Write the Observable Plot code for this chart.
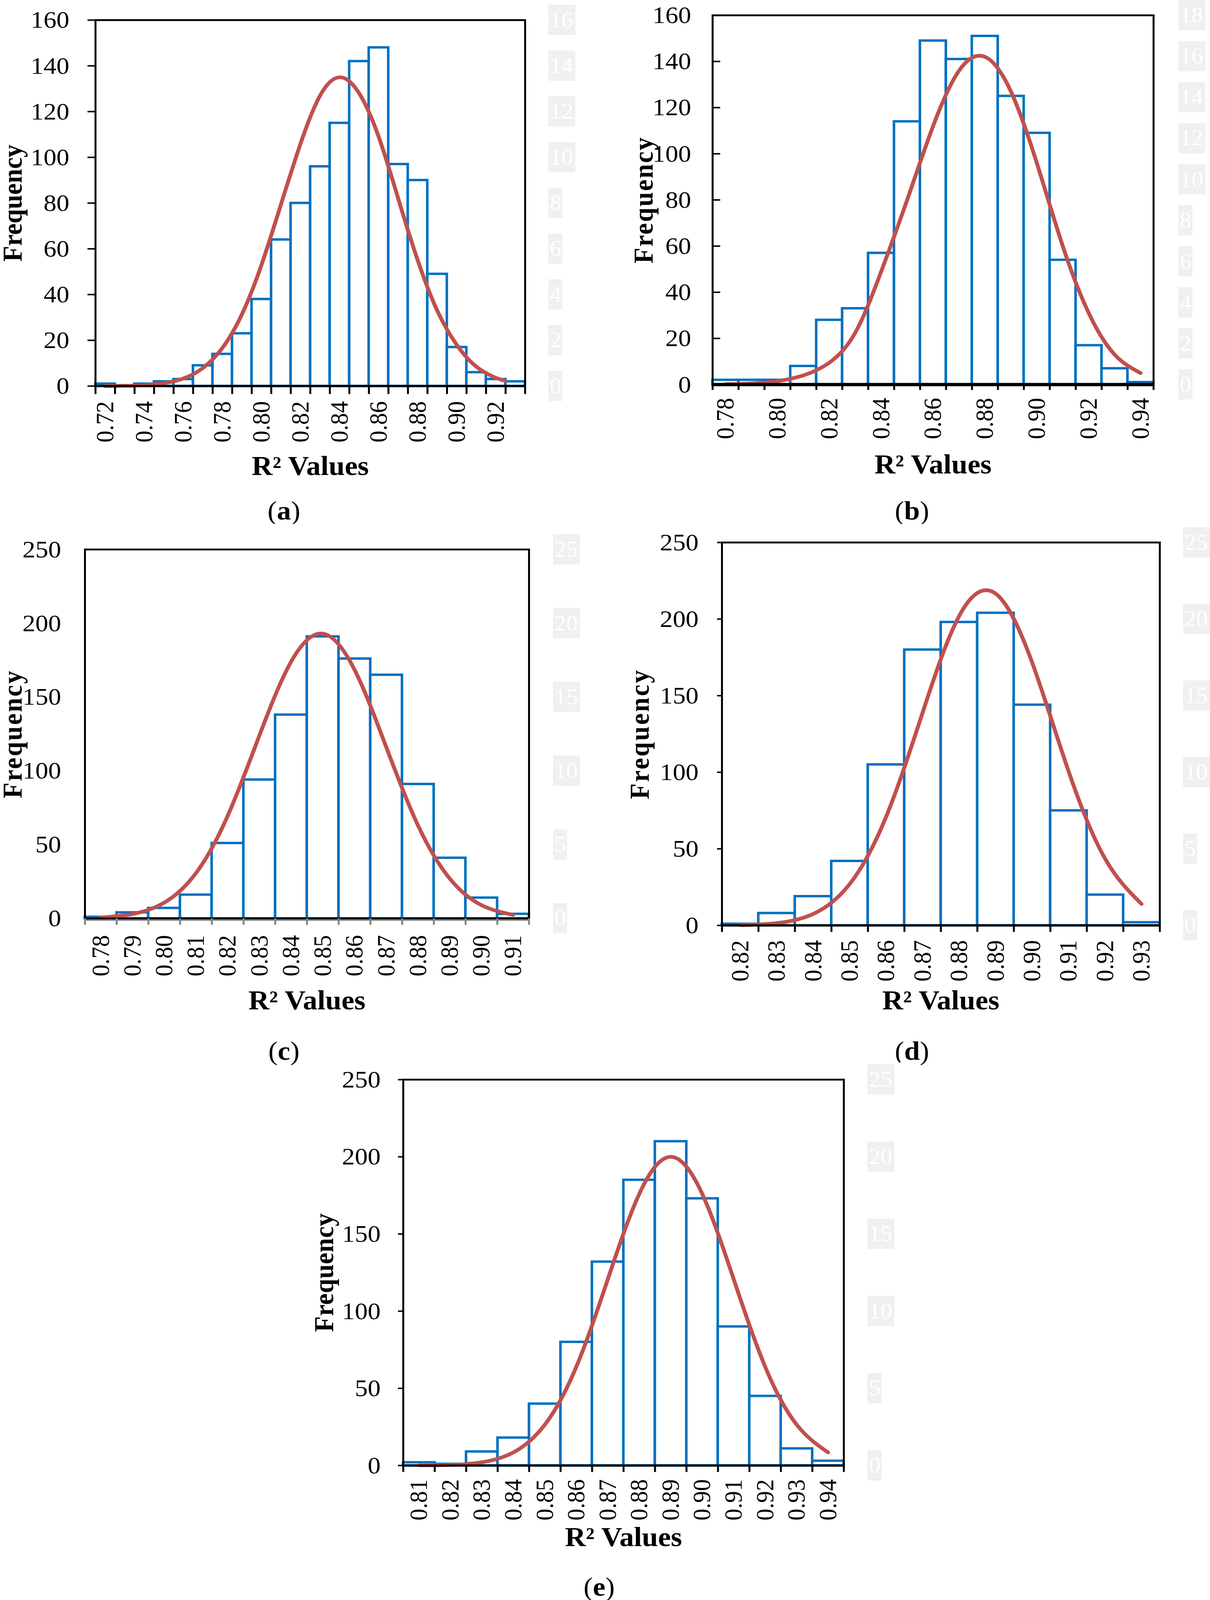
<!DOCTYPE html>
<html>
<head>
<meta charset="utf-8">
<script src="https://cdn.jsdelivr.net/npm/d3@7"></script>
<script src="https://cdn.jsdelivr.net/npm/@observablehq/plot@0.6"></script>
<style>
  body { margin: 0; background: #fff; overflow: hidden; }
  #page { position: relative; width: 3098px; height: 4337px; background: #fff; font-family: "Liberation Serif", serif; transform-origin: 0 0; }
  .panel { position: absolute; }
  .cap { position: absolute; width: 400px; text-align: center; font-size: 72px; line-height: 72px; color: #000; }
</style>
</head>
<body>
<div id="page"></div>
<script>
// bin centres (R2 value) and frequencies
const centersA = [0.72, 0.73, 0.74, 0.75, 0.76, 0.77, 0.78, 0.79, 0.80, 0.81, 0.82, 0.83, 0.84, 0.85, 0.86, 0.87, 0.88, 0.89, 0.90, 0.91, 0.92, 0.93];
const countsA = [1, 0, 1, 2, 3, 9, 14, 23, 38, 64, 80, 96, 115, 142, 148, 97, 90, 49, 17, 6, 3, 2];
const labelsA = [0.72, 0.74, 0.76, 0.78, 0.80, 0.82, 0.84, 0.86, 0.88, 0.90, 0.92];
const fitXA = [0.72, 0.73, 0.74, 0.75, 0.76, 0.77, 0.78, 0.79, 0.80, 0.81, 0.82, 0.83, 0.84, 0.85, 0.86, 0.87, 0.88, 0.89, 0.90, 0.91, 0.92, 0.925];
const fitYA = [0.03, 0.13, 0.42, 1.3, 3.3, 7.9, 16.7, 31.4, 53, 79.5, 106, 127, 135, 128, 109, 82, 55, 33, 18, 8.5, 3.6, 2.3];

const centersB = [0.78, 0.79, 0.80, 0.81, 0.82, 0.83, 0.84, 0.85, 0.86, 0.87, 0.88, 0.89, 0.90, 0.91, 0.92, 0.93, 0.94];
const countsB = [2, 2, 2, 8, 28, 33, 57, 114, 149, 141, 151, 125, 109, 54, 17, 7, 1];
const labelsB = [0.78, 0.80, 0.82, 0.84, 0.86, 0.88, 0.90, 0.92, 0.94];
const fitXB = [0.78, 0.79, 0.80, 0.81, 0.82, 0.83, 0.84, 0.85, 0.86, 0.87, 0.88, 0.89, 0.90, 0.91, 0.92, 0.93, 0.94];
const fitYB = [0.2, 0.5, 1.5, 4, 9.5, 22.5, 49, 80, 112, 136, 142, 127, 96, 60, 31, 13, 5];

const centersC = [0.78, 0.79, 0.80, 0.81, 0.82, 0.83, 0.84, 0.85, 0.86, 0.87, 0.88, 0.89, 0.90, 0.91];
const countsC = [1, 4, 7, 16, 51, 94, 138, 191, 176, 165, 91, 41, 14, 3];
const labelsC = centersC;
const fitXC = [0.78, 0.79, 0.80, 0.81, 0.82, 0.83, 0.84, 0.85, 0.86, 0.87, 0.88, 0.89, 0.90, 0.91];
const fitYC = [0.6, 3, 10.7, 30.7, 69.5, 124, 174, 193, 168.5, 116, 63, 27, 9, 2.4];

const centersD = [0.82, 0.83, 0.84, 0.85, 0.86, 0.87, 0.88, 0.89, 0.90, 0.91, 0.92, 0.93];
const countsD = [1, 8, 19, 42, 105, 180, 198, 204, 144, 75, 20, 2];
const labelsD = centersD;
const fitXD = [0.82, 0.83, 0.84, 0.85, 0.86, 0.87, 0.88, 0.89, 0.90, 0.91, 0.92, 0.93];
const fitYD = [0.2, 1.5, 7.5, 27, 71, 139, 202, 216.6, 171.7, 100.6, 43.6, 14];

const centersE = [0.81, 0.82, 0.83, 0.84, 0.85, 0.86, 0.87, 0.88, 0.89, 0.90, 0.91, 0.92, 0.93, 0.94];
const countsE = [2, 1, 9, 18, 40, 80, 132, 185, 210, 173, 90, 45, 11, 3];
const labelsE = centersE;
const fitXE = [0.81, 0.82, 0.83, 0.84, 0.85, 0.86, 0.87, 0.88, 0.89, 0.90, 0.91, 0.92, 0.93, 0.94];
const fitYE = [0.1, 0.4, 2.1, 8.5, 26.5, 64, 120.7, 176, 200, 176, 120.7, 64, 26.5, 8.5];

// faint leftover labels of a hidden secondary axis, bottom to top
const ghost160 = ["0", "2", "4", "6", "8", "10", "12", "14", "16"];
const ghost180 = ["0", "2", "4", "6", "8", "10", "12", "14", "16", "18"];
const ghost250 = ["0", "5", "10", "15", "20", "25"];

const binW = 0.01;
const BLUE = "#0070C0", RED = "#C0504D";

// the window is shorter than the 4337px figure: squeeze the page to fit its height
const page = document.getElementById("page");
page.style.transform = "scale(1," + Math.min(1, window.innerHeight / 4337) + ")";

function panel(p) {
  const bins = p.centers.map((c, i) => ({x1: c - binW / 2, x2: c + binW / 2, n: p.counts[i]}));
  const edges = [...p.centers.map(c => c - binW / 2), p.centers[p.centers.length - 1] + binW / 2];
  const lo = edges[0], hi = edges[edges.length - 1];
  const fit = p.fitX.map((x, i) => ({x, y: p.fitY[i]}));
  const ghost = p.ghost.map((g, i) => ({g, y: i * p.yMax / (p.ghost.length - 1)}));
  const yTicks = d3.range(0, p.yMax + 1, p.yStep);

  const chart = Plot.plot({
    width: p.width, height: p.height,
    marginLeft: p.ml, marginRight: p.mr, marginTop: p.mt, marginBottom: p.mb,
    style: {fontFamily: "Liberation Serif", fontSize: "66px", color: "black", background: "white", overflow: "visible"},
    x: {domain: [lo, hi]},
    y: {domain: [0, p.yMax]},
    marks: [
      Plot.rect(ghost.filter(d => d.g.length > 1), {x1: () => hi, x2: () => hi, y1: "y", y2: "y", dx: p.gdx,
        insetRight: -69, insetTop: -41, insetBottom: -41, fill: "#f0f0f0"}),
      Plot.rect(ghost.filter(d => d.g.length === 1), {x1: () => hi, x2: () => hi, y1: "y", y2: "y", dx: p.gdx,
        insetRight: -36, insetTop: -41, insetBottom: -41, fill: "#f0f0f0"}),
      Plot.text(ghost, {x: () => hi, y: "y", text: "g", dx: p.gdx + 3, textAnchor: "start", fill: "white", fontSize: 60}),
      Plot.rectY(bins, {x1: "x1", x2: "x2", y: "n", fill: "white", stroke: BLUE, strokeWidth: 6.5}),
      Plot.line(fit, {x: "x", y: "y", stroke: RED, strokeWidth: 10, curve: "natural"}),
      Plot.ruleY([0], {stroke: p.base, strokeWidth: p.baseW, dy: p.baseDy || 0}),
      Plot.frame({stroke: "black", strokeWidth: 5}),
      Plot.axisY({ticks: yTicks, tickSize: p.yTick, tickPadding: p.yPad, strokeWidth: 4, label: null, fontSize: 66}),
      Plot.axisX({ticks: edges, tickSize: p.xTick, tickFormat: () => "", stroke: p.base, strokeWidth: 5, label: null}),
      Plot.axisX({ticks: p.labels, tickSize: 0, tickRotate: -90, tickPadding: p.xPad, tickFormat: d3.format(".2f"), label: null, fontSize: 64}),
      Plot.text(["R² Values"], {text: d => d, frameAnchor: "bottom", dy: p.xTitleDy, textAnchor: "middle", lineAnchor: "middle",
        fontWeight: "bold", fontSize: 74}),
      Plot.text(["Frequency"], {text: d => d, frameAnchor: "left", dx: p.yTitleDx, rotate: -90, textAnchor: "middle", lineAnchor: "middle",
        fontWeight: "bold", fontSize: 70})
    ]
  });

  // wider letter spacing of the y title in some panels
  d3.select(chart).selectAll("text")
    .filter(function () { return this.textContent === "Frequency"; })
    .attr("letter-spacing", p.ls || 0);

  const div = document.createElement("div");
  div.className = "panel";
  div.style.left = p.left + "px";
  div.style.top = p.top + "px";
  div.append(chart);
  page.append(div);

  const cap = document.createElement("div");
  cap.className = "cap";
  cap.style.left = (p.capX - 200) + "px";
  cap.style.top = (p.capY - 60) + "px";
  cap.innerHTML = "(<b>" + p.tag + "</b>)";
  page.append(cap);
}

panel({tag: "a", centers: centersA, counts: countsA, labels: labelsA, fitX: fitXA, fitY: fitYA, ghost: ghost160,
  yMax: 160, yStep: 20, left: 0, top: 0, width: 1540, height: 1306, ml: 244, mr: 196, mt: 54, mb: 260,
  yTick: 20, yPad: 47, xTick: 22, xPad: 41, base: "black", baseW: 6, gdx: 60, xTitleDy: 217, yTitleDx: -211, ls: 0,
  capX: 727, capY: 1408});

panel({tag: "b", centers: centersB, counts: countsB, labels: labelsB, fitX: fitXB, fitY: fitYB, ghost: ghost180,
  yMax: 160, yStep: 20, left: 1580, top: 0, width: 1518, height: 1302, ml: 244, mr: 145, mt: 41, mb: 260,
  yTick: -20, yPad: 75, xTick: 15, xPad: 36, base: "black", baseW: 9, gdx: 64, xTitleDy: 217, yTitleDx: -176, ls: 3,
  capX: 2335, capY: 1408});

panel({tag: "c", centers: centersC, counts: countsC, labels: labelsC, fitX: fitXC, fitY: fitYC, ghost: ghost250,
  yMax: 250, yStep: 50, left: 0, top: 1420, width: 1540, height: 1330, ml: 217, mr: 186, mt: 69, mb: 261,
  yTick: 0, yPad: 61, xTick: 18, xPad: 45, base: "#868686", baseW: 7, baseDy: 3, gdx: 62, xTitleDy: 223, yTitleDx: -184, ls: 3.5,
  capX: 727, capY: 2873});

panel({tag: "d", centers: centersD, counts: countsD, labels: labelsD, fitX: fitXD, fitY: fitYD, ghost: ghost250,
  yMax: 250, yStep: 50, left: 1580, top: 1420, width: 1518, height: 1340, ml: 268, mr: 129, mt: 50, mb: 252,
  yTick: 12, yPad: 48, xTick: 18, xPad: 40, base: "black", baseW: 6, gdx: 60, xTitleDy: 204, yTitleDx: -210, ls: 4,
  capX: 2335, capY: 2873});

panel({tag: "e", centers: centersE, counts: countsE, labels: labelsE, fitX: fitXE, fitY: fitYE, ghost: ghost250,
  yMax: 250, yStep: 50, left: 760, top: 2880, width: 1560, height: 1320, ml: 272, mr: 160, mt: 46, mb: 228,
  yTick: 13, yPad: 45, xTick: 18, xPad: 37, base: "black", baseW: 6, gdx: 61, xTitleDy: 195, yTitleDx: -202, ls: 0.5,
  capX: 1534, capY: 4325});
</script>
</body>
</html>
